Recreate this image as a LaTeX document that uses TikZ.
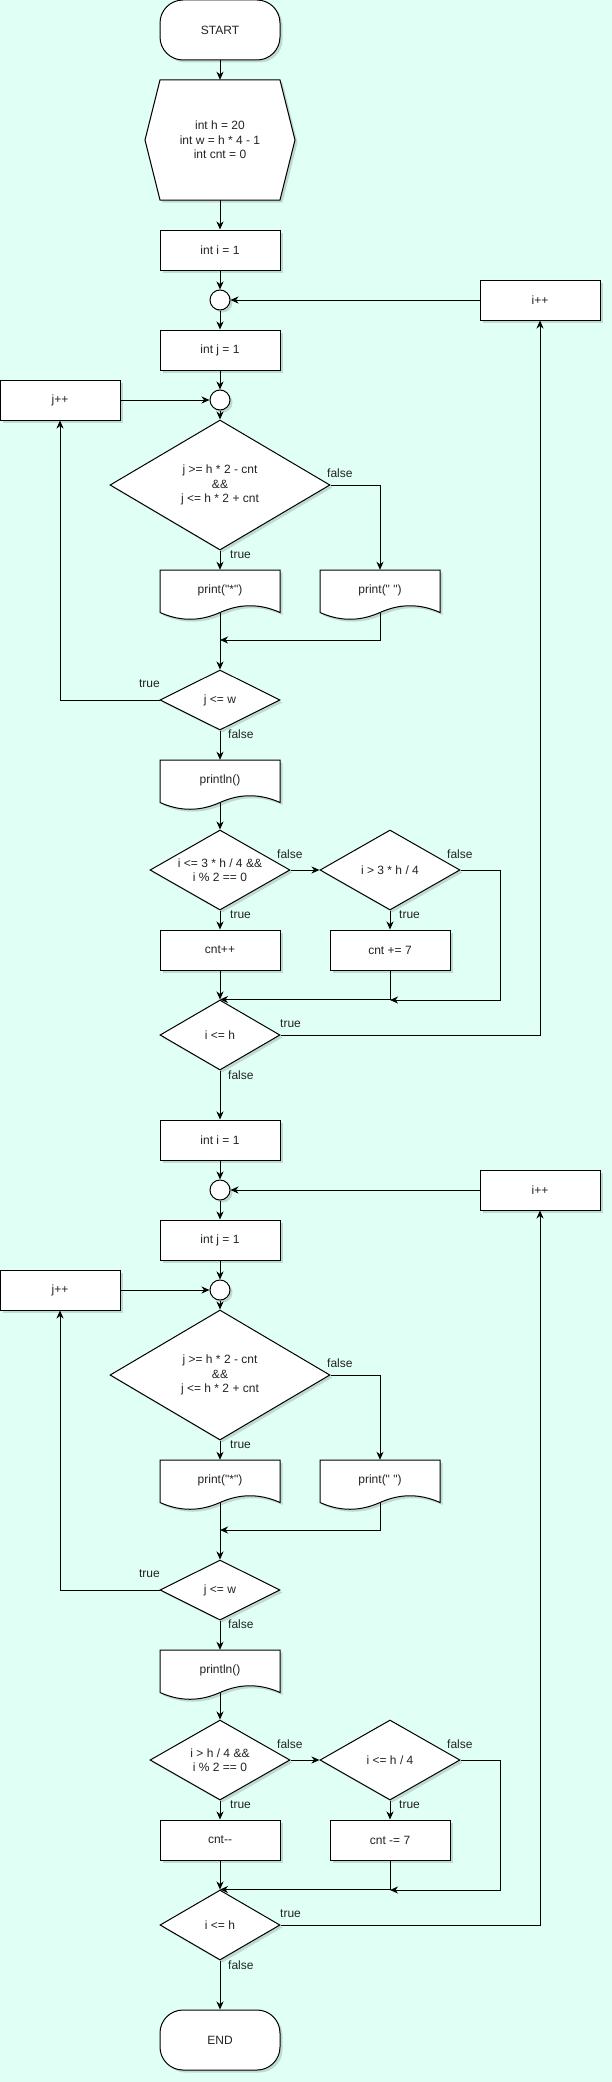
\documentclass[tikz,border=0pt]{standalone}
\usepackage{fontspec}
\newfontfamily\diofont{Liberation Sans}
\usepackage{xcolor}
\definecolor{bgMint}{RGB}{224,255,245}
\definecolor{txtGray}{RGB}{35,35,35}
\usepackage{tikz}
\usetikzlibrary{arrows.meta,shapes.geometric,shadows}
\tikzstyle{flow}=[-{Stealth[length=8pt,width=7pt,inset=2.5pt]}, line width=1pt]
\tikzstyle{shadowed}=[drop shadow={shadow xshift=2.5pt, shadow yshift=-2.5pt, opacity=0.18, fill=black!80}]
\tikzstyle{diotext}=[font=\diofont\fontsize{12pt}{14.4pt}\selectfont, text=txtGray, align=center]
\tikzstyle{shapeline}=[draw, line width=1pt, fill=white, shadowed]
\tikzstyle{procbox}=[rectangle, shapeline, diotext, minimum width=120pt, minimum height=40pt, inner sep=0pt]
\tikzstyle{termbox}=[procbox, rounded corners=23pt, minimum height=60pt]
\tikzstyle{docbox}=[rectangle, diotext, minimum width=120pt, minimum height=40pt, inner sep=0pt]
\tikzstyle{decision}=[diamond, shapeline, diotext, inner sep=0pt, shape aspect=1.75]
\tikzstyle{joint}=[circle, shapeline, minimum size=20pt, inner sep=0pt]
\tikzstyle{lbl}=[diotext, inner sep=0pt]
% document outline: centre x, centre y
\newcommand{\docshape}[2]{%
  \draw[shapeline] (#1-60,#2-20) -- (#1+60,#2-20) -- (#1+60,#2+22.5)
    .. controls (#1+40,#2+13.5) and (#1+20,#2+13.5) .. (#1,#2+22.5)
    .. controls (#1-20,#2+31.5) and (#1-40,#2+31.5) .. (#1-60,#2+22.5) -- cycle;}

\begin{document}
\begin{tikzpicture}[x=1pt, y=-1pt]
    \path[fill=bgMint, use as bounding box] (0,0) rectangle (612,2082);

    % --- start ---
    \node[termbox] (start) at (220,30) {START};
    \draw[shapeline] (160,80) -- (280,80) -- (295,140) -- (280,200)
        -- (160,200) -- (145,140) -- cycle;
    \node[docbox, minimum height=120pt] (prep) at (220,140)
        {int h = 20\\int w = h * 4 - 1\\int cnt = 0};
    \draw[flow] (start.south) -- (prep.north);

    % --- two passes of the loops ---
    \foreach \k/\oy/\condA/\condB/\incA/\incB in {%
1/0/{i <= 3 * h / 4 \&\&\\i \% 2 == 0}/{i > 3 * h / 4}/{cnt++}/{cnt += 7},%
2/890/{i > h / 4 \&\&\\i \% 2 == 0}/{i <= h / 4}/{cnt-{}-}/{cnt -= 7}} {
      \node[procbox] (ini\k) at (220,250+\oy) {int i = 1};
      \node[joint] (ci\k) at (220,300+\oy) {};
      \node[procbox] (iinc\k) at (540,300+\oy) {i++};
      \node[procbox] (inj\k) at (220,350+\oy) {int j = 1};
      \node[joint] (cj\k) at (220,400+\oy) {};
      \node[procbox] (jinc\k) at (60,400+\oy) {j++};
      \node[decision, minimum width=220pt, minimum height=130pt] (cnd\k) at (220,485+\oy)
           {j >= h * 2 - cnt\\\&\&\\j <= h * 2 + cnt};
      \docshape{220}{590+\oy}
      \node[docbox] (pstar\k) at (220,590+\oy) {print("*")};
      \docshape{380}{590+\oy}
      \node[docbox] (pspace\k) at (380,590+\oy) {print(" ")};
      \coordinate (m\k) at (220,640+\oy);
      \node[decision, minimum width=120pt, minimum height=60pt] (jw\k) at (220,700+\oy) {j <= w};
      \docshape{220}{780+\oy}
      \node[docbox] (pln\k) at (220,780+\oy) {println()};
      \node[decision, minimum width=140pt, minimum height=80pt] (ca\k) at (220,870+\oy) {\condA};
      \node[decision, minimum width=140pt, minimum height=80pt] (cb\k) at (390,870+\oy) {\condB};
      \node[procbox] (inca\k) at (220,950+\oy) {\incA};
      \node[procbox] (incb\k) at (390,950+\oy) {\incB};
      \coordinate (r\k) at (500,1000+\oy);
      \coordinate (n\k) at (390,1000+\oy);
      \node[decision, minimum width=120pt, minimum height=70pt] (ih\k) at (220,1035+\oy) {i <= h};

      % branch labels
      \node[lbl, anchor=west] (lf1\k) at (327,473+\oy) {false};
      \node[lbl, anchor=west] (lt1\k) at (230,555+\oy) {true};
      \node[lbl, anchor=east] (lt2\k) at (160,684+\oy) {true};
      \node[lbl, anchor=west] (lf2\k) at (228,734+\oy) {false};
      \node[lbl, anchor=west] (lf3\k) at (277,854+\oy) {false};
      \node[lbl, anchor=west] (lt3\k) at (230,915+\oy) {true};
      \node[lbl, anchor=west] (lf4\k) at (447,854+\oy) {false};
      \node[lbl, anchor=west] (lt4\k) at (399,915+\oy) {true};
      \node[lbl, anchor=west] (lt5\k) at (280,1024+\oy) {true};
      \node[lbl, anchor=west] (lf5\k) at (228,1075+\oy) {false};

      % connectors
      \draw[flow] (ini\k.south) -- (ci\k.north);
      \draw[flow] (iinc\k.west) -- (ci\k.east);
      \draw[flow] (ci\k.south) -- (inj\k.north);
      \draw[flow] (inj\k.south) -- (cj\k.north);
      \draw[flow] (jinc\k.east) -- (cj\k.west);
      \draw[flow] (cj\k.south) -- (cnd\k.north);
      \draw[flow] (cnd\k.south) -- (pstar\k.north);
      \draw[flow] (cnd\k.east) -| (pspace\k.north);
      \draw[flow] ([yshift=-2.5pt]pspace\k.south) |- (m\k);
      \draw[flow] ([yshift=-2.5pt]pstar\k.south) -- (jw\k.north);
      \draw[flow] (jw\k.west) -| (jinc\k.south);
      \draw[flow] (jw\k.south) -- (pln\k.north);
      \draw[flow] ([yshift=-2.5pt]pln\k.south) -- (ca\k.north);
      \draw[flow] (ca\k.east) -- (cb\k.west);
      \draw[flow] (ca\k.south) -- (inca\k.north);
      \draw[flow] (cb\k.south) -- (incb\k.north);
      \draw[flow] (cb\k.east) -| (r\k) -- (n\k);
      \draw[flow] (inca\k.south) -- (ih\k.north);
      \draw[flow] (incb\k.south) |- (ih\k.north);
      \draw[flow] (ih\k.east) -| (iinc\k.south);
    }

    % --- end ---
    \node[termbox] (finish) at (220,2040) {END};
    \draw[flow] (prep.south) -- (ini1.north);
    \draw[flow] (ih1.south) -- (ini2.north);
    \draw[flow] (ih2.south) -- (finish.north);
\end{tikzpicture}
\end{document}
